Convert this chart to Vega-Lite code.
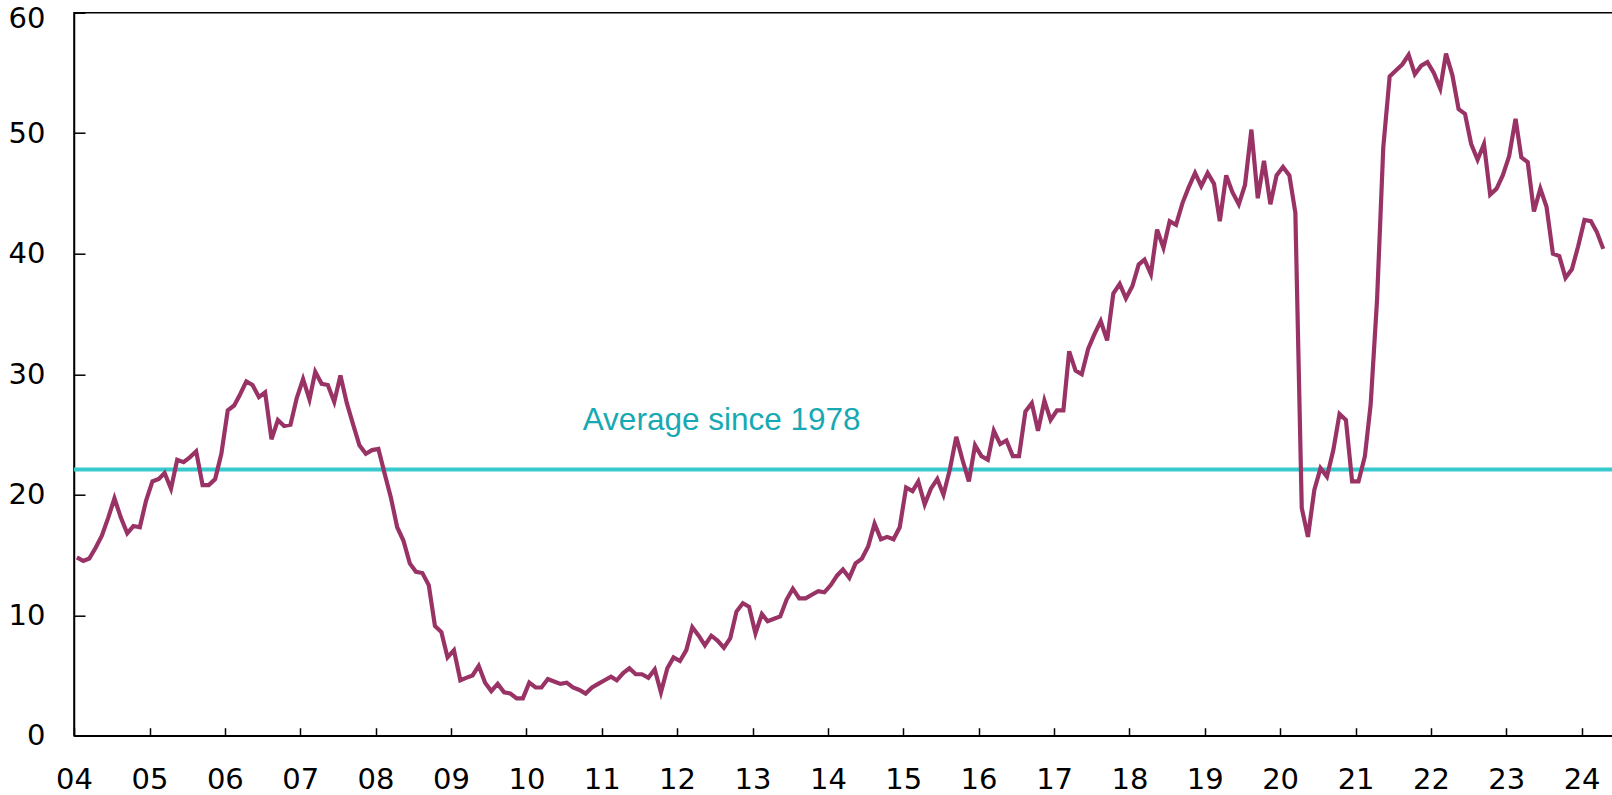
{
  "$schema": "https://vega.github.io/schema/vega-lite/v6.json",
  "width": 1540,
  "height": 723,
  "autosize": {"type": "none"},
  "padding": {"left": 74, "top": 12.7, "right": 0, "bottom": 59.3},
  "background": "white",
  "config": {
    "view": {"stroke": "black", "strokeWidth": 1.5},
    "axis": {
      "grid": false,
      "domainColor": "black",
      "domainWidth": 1.5,
      "tickColor": "black",
      "tickWidth": 1.5,
      "labelFont": "DejaVu Sans",
      "labelFontSize": 29,
      "labelColor": "black",
      "labelFlush": false,
      "labelBound": false,
      "labelOverlap": false,
      "title": null
    }
  },
  "layer": [
    {
      "data": {"values": [{"average": 22.1}]},
      "mark": {"type": "rule", "color": "#38C9CC", "strokeWidth": 4},
      "encoding": {
        "y": {"field": "average", "type": "quantitative", "scale": {"domain": [0, 60]}}
      }
    },
    {
      "data": {"values": [{"label": "Average since 1978"}]},
      "mark": {"type": "text", "font": "Liberation Sans", "fontSize": 31.5, "color": "#17A9B3", "align": "center", "baseline": "alphabetic"},
      "encoding": {
        "x": {"datum": {"year": 2012, "month": 8, "date": 4, "utc": true}, "type": "temporal"},
        "y": {"datum": 25.4, "type": "quantitative"},
        "text": {"field": "label"}
      }
    },
    {
      "data": {"values": [
        {"date":"2004-01-15","v":14.8},{"date":"2004-02-15","v":14.5},{"date":"2004-03-15","v":14.7},{"date":"2004-04-15","v":15.6},{"date":"2004-05-15","v":16.6},{"date":"2004-06-15","v":18.1},{"date":"2004-07-15","v":19.7},{"date":"2004-08-15","v":18.1},{"date":"2004-09-15","v":16.8},{"date":"2004-10-15","v":17.4},{"date":"2004-11-15","v":17.3},{"date":"2004-12-15","v":19.5},
        {"date":"2005-01-15","v":21.1},{"date":"2005-02-15","v":21.3},{"date":"2005-03-15","v":21.8},{"date":"2005-04-15","v":20.5},{"date":"2005-05-15","v":22.9},{"date":"2005-06-15","v":22.7},{"date":"2005-07-15","v":23.1},{"date":"2005-08-15","v":23.6},{"date":"2005-09-15","v":20.8},{"date":"2005-10-15","v":20.8},{"date":"2005-11-15","v":21.3},{"date":"2005-12-15","v":23.4},
        {"date":"2006-01-15","v":27.0},{"date":"2006-02-15","v":27.4},{"date":"2006-03-15","v":28.3},{"date":"2006-04-15","v":29.4},{"date":"2006-05-15","v":29.1},{"date":"2006-06-15","v":28.1},{"date":"2006-07-15","v":28.5},{"date":"2006-08-15","v":24.6},{"date":"2006-09-15","v":26.2},{"date":"2006-10-15","v":25.7},{"date":"2006-11-15","v":25.8},{"date":"2006-12-15","v":28.0},
        {"date":"2007-01-15","v":29.6},{"date":"2007-02-15","v":27.9},{"date":"2007-03-15","v":30.2},{"date":"2007-04-15","v":29.2},{"date":"2007-05-15","v":29.1},{"date":"2007-06-15","v":27.7},{"date":"2007-07-15","v":29.9},{"date":"2007-08-15","v":27.6},{"date":"2007-09-15","v":25.8},{"date":"2007-10-15","v":24.1},{"date":"2007-11-15","v":23.4},{"date":"2007-12-15","v":23.7},
        {"date":"2008-01-15","v":23.8},{"date":"2008-02-15","v":21.7},{"date":"2008-03-15","v":19.8},{"date":"2008-04-15","v":17.3},{"date":"2008-05-15","v":16.2},{"date":"2008-06-15","v":14.3},{"date":"2008-07-15","v":13.6},{"date":"2008-08-15","v":13.5},{"date":"2008-09-15","v":12.5},{"date":"2008-10-15","v":9.1},{"date":"2008-11-15","v":8.6},{"date":"2008-12-15","v":6.5},
        {"date":"2009-01-15","v":7.1},{"date":"2009-02-15","v":4.6},{"date":"2009-03-15","v":4.8},{"date":"2009-04-15","v":5.0},{"date":"2009-05-15","v":5.8},{"date":"2009-06-15","v":4.4},{"date":"2009-07-15","v":3.7},{"date":"2009-08-15","v":4.3},{"date":"2009-09-15","v":3.6},{"date":"2009-10-15","v":3.5},{"date":"2009-11-15","v":3.1},{"date":"2009-12-15","v":3.1},
        {"date":"2010-01-15","v":4.4},{"date":"2010-02-15","v":4.0},{"date":"2010-03-15","v":4.0},{"date":"2010-04-15","v":4.7},{"date":"2010-05-15","v":4.5},{"date":"2010-06-15","v":4.3},{"date":"2010-07-15","v":4.4},{"date":"2010-08-15","v":4.0},{"date":"2010-09-15","v":3.8},{"date":"2010-10-15","v":3.5},{"date":"2010-11-15","v":4.0},{"date":"2010-12-15","v":4.3},
        {"date":"2011-01-15","v":4.6},{"date":"2011-02-15","v":4.9},{"date":"2011-03-15","v":4.6},{"date":"2011-04-15","v":5.2},{"date":"2011-05-15","v":5.6},{"date":"2011-06-15","v":5.1},{"date":"2011-07-15","v":5.1},{"date":"2011-08-15","v":4.8},{"date":"2011-09-15","v":5.5},{"date":"2011-10-15","v":3.6},{"date":"2011-11-15","v":5.6},{"date":"2011-12-15","v":6.5},
        {"date":"2012-01-15","v":6.2},{"date":"2012-02-15","v":7.1},{"date":"2012-03-15","v":9.0},{"date":"2012-04-15","v":8.3},{"date":"2012-05-15","v":7.5},{"date":"2012-06-15","v":8.3},{"date":"2012-07-15","v":7.9},{"date":"2012-08-15","v":7.3},{"date":"2012-09-15","v":8.1},{"date":"2012-10-15","v":10.3},{"date":"2012-11-15","v":11.0},{"date":"2012-12-15","v":10.7},
        {"date":"2013-01-15","v":8.5},{"date":"2013-02-15","v":10.1},{"date":"2013-03-15","v":9.5},{"date":"2013-04-15","v":9.7},{"date":"2013-05-15","v":9.9},{"date":"2013-06-15","v":11.3},{"date":"2013-07-15","v":12.2},{"date":"2013-08-15","v":11.4},{"date":"2013-09-15","v":11.4},{"date":"2013-10-15","v":11.7},{"date":"2013-11-15","v":12.0},{"date":"2013-12-15","v":11.9},
        {"date":"2014-01-15","v":12.5},{"date":"2014-02-15","v":13.3},{"date":"2014-03-15","v":13.8},{"date":"2014-04-15","v":13.1},{"date":"2014-05-15","v":14.3},{"date":"2014-06-15","v":14.7},{"date":"2014-07-15","v":15.7},{"date":"2014-08-15","v":17.6},{"date":"2014-09-15","v":16.3},{"date":"2014-10-15","v":16.5},{"date":"2014-11-15","v":16.3},{"date":"2014-12-15","v":17.3},
        {"date":"2015-01-15","v":20.6},{"date":"2015-02-15","v":20.3},{"date":"2015-03-15","v":21.1},{"date":"2015-04-15","v":19.2},{"date":"2015-05-15","v":20.5},{"date":"2015-06-15","v":21.3},{"date":"2015-07-15","v":20.0},{"date":"2015-08-15","v":22.1},{"date":"2015-09-15","v":24.8},{"date":"2015-10-15","v":22.9},{"date":"2015-11-15","v":21.1},{"date":"2015-12-15","v":24.1},
        {"date":"2016-01-15","v":23.2},{"date":"2016-02-15","v":22.9},{"date":"2016-03-15","v":25.3},{"date":"2016-04-15","v":24.2},{"date":"2016-05-15","v":24.5},{"date":"2016-06-15","v":23.2},{"date":"2016-07-15","v":23.2},{"date":"2016-08-15","v":26.9},{"date":"2016-09-15","v":27.6},{"date":"2016-10-15","v":25.3},{"date":"2016-11-15","v":27.8},{"date":"2016-12-15","v":26.2},
        {"date":"2017-01-15","v":27.0},{"date":"2017-02-15","v":27.0},{"date":"2017-03-15","v":31.9},{"date":"2017-04-15","v":30.3},{"date":"2017-05-15","v":30.0},{"date":"2017-06-15","v":32.1},{"date":"2017-07-15","v":33.3},{"date":"2017-08-15","v":34.4},{"date":"2017-09-15","v":32.8},{"date":"2017-10-15","v":36.7},{"date":"2017-11-15","v":37.5},{"date":"2017-12-15","v":36.3},
        {"date":"2018-01-15","v":37.3},{"date":"2018-02-15","v":39.1},{"date":"2018-03-15","v":39.5},{"date":"2018-04-15","v":38.3},{"date":"2018-05-15","v":42.0},{"date":"2018-06-15","v":40.5},{"date":"2018-07-15","v":42.7},{"date":"2018-08-15","v":42.4},{"date":"2018-09-15","v":44.2},{"date":"2018-10-15","v":45.5},{"date":"2018-11-15","v":46.7},{"date":"2018-12-15","v":45.6},
        {"date":"2019-01-15","v":46.7},{"date":"2019-02-15","v":45.8},{"date":"2019-03-15","v":42.7},{"date":"2019-04-15","v":46.5},{"date":"2019-05-15","v":45.1},{"date":"2019-06-15","v":44.1},{"date":"2019-07-15","v":45.7},{"date":"2019-08-15","v":50.3},{"date":"2019-09-15","v":44.6},{"date":"2019-10-15","v":47.7},{"date":"2019-11-15","v":44.1},{"date":"2019-12-15","v":46.5},
        {"date":"2020-01-15","v":47.2},{"date":"2020-02-15","v":46.5},{"date":"2020-03-15","v":43.4},{"date":"2020-04-15","v":18.9},{"date":"2020-05-15","v":16.5},{"date":"2020-06-15","v":20.4},{"date":"2020-07-15","v":22.2},{"date":"2020-08-15","v":21.5},{"date":"2020-09-15","v":23.7},{"date":"2020-10-15","v":26.7},{"date":"2020-11-15","v":26.2},{"date":"2020-12-15","v":21.1},
        {"date":"2021-01-15","v":21.1},{"date":"2021-02-15","v":23.2},{"date":"2021-03-15","v":27.5},{"date":"2021-04-15","v":36.2},{"date":"2021-05-15","v":48.8},{"date":"2021-06-15","v":54.7},{"date":"2021-07-15","v":55.2},{"date":"2021-08-15","v":55.7},{"date":"2021-09-15","v":56.5},{"date":"2021-10-15","v":54.9},{"date":"2021-11-15","v":55.6},{"date":"2021-12-15","v":55.9},
        {"date":"2022-01-15","v":55.0},{"date":"2022-02-15","v":53.7},{"date":"2022-03-15","v":56.6},{"date":"2022-04-15","v":54.8},{"date":"2022-05-15","v":52.0},{"date":"2022-06-15","v":51.6},{"date":"2022-07-15","v":49.1},{"date":"2022-08-15","v":47.8},{"date":"2022-09-15","v":49.1},{"date":"2022-10-15","v":44.9},{"date":"2022-11-15","v":45.4},{"date":"2022-12-15","v":46.5},
        {"date":"2023-01-15","v":48.1},{"date":"2023-02-15","v":51.2},{"date":"2023-03-15","v":48.0},{"date":"2023-04-15","v":47.6},{"date":"2023-05-15","v":43.5},{"date":"2023-06-15","v":45.4},{"date":"2023-07-15","v":43.9},{"date":"2023-08-15","v":40.0},{"date":"2023-09-15","v":39.8},{"date":"2023-10-15","v":38.0},{"date":"2023-11-15","v":38.7},{"date":"2023-12-15","v":40.6},
        {"date":"2024-01-15","v":42.8},{"date":"2024-02-15","v":42.7},{"date":"2024-03-15","v":41.8},{"date":"2024-04-15","v":40.4}
      ]},
      "mark": {"type": "line", "color": "#993366", "strokeWidth": 4.2},
      "encoding": {
        "x": {
          "field": "date",
          "type": "temporal",
          "scale": {"type": "utc", "domain": [{"year": 2004, "month": 1, "date": 1, "utc": true}, {"year": 2024, "month": 6, "date": 6, "utc": true}]},
          "axis": {
            "values": [
              {"year": 2004, "month": 1, "date": 1, "utc": true},{"year": 2005, "month": 1, "date": 1, "utc": true},{"year": 2006, "month": 1, "date": 1, "utc": true},{"year": 2007, "month": 1, "date": 1, "utc": true},{"year": 2008, "month": 1, "date": 1, "utc": true},{"year": 2009, "month": 1, "date": 1, "utc": true},{"year": 2010, "month": 1, "date": 1, "utc": true},{"year": 2011, "month": 1, "date": 1, "utc": true},{"year": 2012, "month": 1, "date": 1, "utc": true},{"year": 2013, "month": 1, "date": 1, "utc": true},{"year": 2014, "month": 1, "date": 1, "utc": true},{"year": 2015, "month": 1, "date": 1, "utc": true},{"year": 2016, "month": 1, "date": 1, "utc": true},{"year": 2017, "month": 1, "date": 1, "utc": true},{"year": 2018, "month": 1, "date": 1, "utc": true},{"year": 2019, "month": 1, "date": 1, "utc": true},{"year": 2020, "month": 1, "date": 1, "utc": true},{"year": 2021, "month": 1, "date": 1, "utc": true},{"year": 2022, "month": 1, "date": 1, "utc": true},{"year": 2023, "month": 1, "date": 1, "utc": true},{"year": 2024, "month": 1, "date": 1, "utc": true}
            ],
            "labelExpr": "utcFormat(datum.value, '%y')",
            "tickSize": -8,
            "labelPadding": 60.5,
            "labelBaseline": "alphabetic"
          }
        },
        "y": {
          "field": "v",
          "type": "quantitative",
          "scale": {"domain": [0, 60]},
          "axis": {
            "values": [0, 10, 20, 30, 40, 50, 60],
            "tickSize": -11,
            "labelPadding": 40,
            "labelAlign": "right",
            "labelBaseline": "middle",
            "labelOffset": {"condition": {"test": "datum.value == 60", "value": 6}, "value": 0}
          }
        }
      }
    }
  ]
}
